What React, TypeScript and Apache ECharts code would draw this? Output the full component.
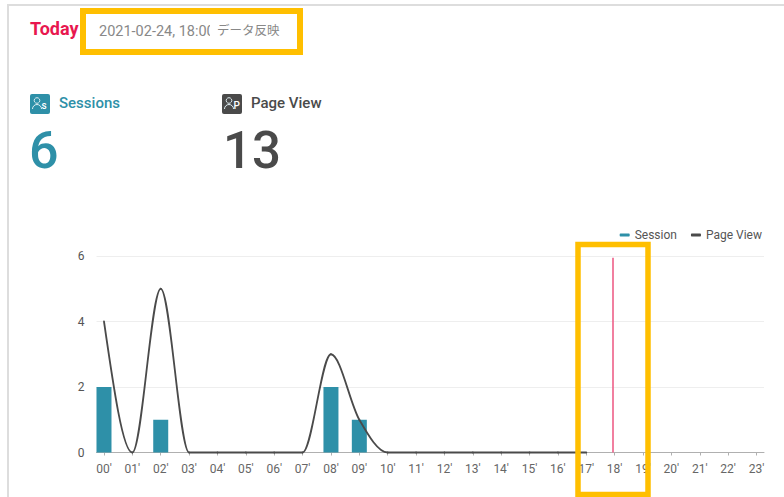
import React, { useEffect, useRef } from "react";
import * as echarts from "echarts";

const hourLabels = ["00'","01'","02'","03'","04'","05'","06'","07'","08'","09'","10'","11'","12'","13'","14'","15'","16'","17'","18'","19'","20'","21'","22'","23'"];
const hourIndex = hourLabels.map((_, i) => i);
const sessionValues = [2,0,1,0,0,0,0,0,2,1,0,0,0,0,0,0,0,0];
const pageViewValues = [4,0,5,0,0,0,0,0,3,1,0,0,0,0,0,0,0,0];
const yTicks = { min: 0, max: 6, interval: 2 };
const nowHour = 17.95;
const nowTop = 5.95;

const TEAL = "#2e90a8";
const DARK = "#4a4a4a";
const YELLOW = "#ffbf00";
const FONT = "Roboto, 'Noto Sans CJK JP', sans-serif";

// Tangents of a monotone cubic through the values (unit spacing), in value units per hour.
function monotoneTangents(v: number[]) {
  const n = v.length;
  const s = v.slice(1).map((y, i) => y - v[i]);
  const m = v.map(() => 0);
  for (let i = 1; i < n - 1; i++) {
    const a = s[i - 1], b = s[i];
    m[i] = (Math.sign(a) + Math.sign(b)) * Math.min(Math.abs(a), Math.abs(b), 0.5 * Math.abs((a + b) / 2));
  }
  m[0] = (3 * s[0] - m[1]) / 2;
  m[n - 1] = (3 * s[n - 2] - m[n - 2]) / 2;
  return m;
}

function renderPageView(params: any, api: any) {
  const i = params.dataIndex;
  if (i >= pageViewValues.length - 1) return null;
  const m = monotoneTangents(pageViewValues);
  const s = api.coord([i, pageViewValues[i]]);
  const c1 = api.coord([i + 1 / 3, pageViewValues[i] + m[i] / 3]);
  const c2 = api.coord([i + 2 / 3, pageViewValues[i + 1] - m[i + 1] / 3]);
  const e = api.coord([i + 1, pageViewValues[i + 1]]);
  return {
    type: "bezierCurve",
    shape: { x1: s[0], y1: s[1], cpx1: c1[0], cpy1: c1[1], cpx2: c2[0], cpy2: c2[1], x2: e[0], y2: e[1] },
    style: { fill: "none", stroke: DARK, lineWidth: 1.8, lineCap: "round" },
  };
}

function txt(x: number, y: number, text: string, fontSize: number, fill: string, fontWeight: any = 400) {
  return { type: "text", x, y, z: 10, style: { text, fontSize, fill, fontWeight, fontFamily: FONT, textVerticalAlign: "middle" } };
}

function icon(x: number, y: number, fill: string, letter: string) {
  return {
    type: "group", x, y, z: 10,
    children: [
      { type: "rect", shape: { x: 0, y: 0, width: 20, height: 20, r: 2 }, style: { fill } },
      { type: "circle", shape: { cx: 7, cy: 6.5, r: 2.8 }, style: { fill: "none", stroke: "#dfeef2", lineWidth: 1 } },
      { type: "arc", shape: { cx: 7, cy: 15, r: 4.5, startAngle: Math.PI, endAngle: 2 * Math.PI }, style: { fill: "none", stroke: "#dfeef2", lineWidth: 1 } },
      { type: "text", x: 11.5, y: 11.5, style: { text: letter, fontSize: 10, fill: "#ffffff", fontWeight: 500, fontFamily: FONT, textVerticalAlign: "middle" } },
    ],
  };
}

export default function App() {
  const ref = useRef<HTMLDivElement>(null);
  useEffect(() => {
    const chart = echarts.init(ref.current!, null, { renderer: "svg" });
    chart.setOption({
      animation: false,
      backgroundColor: "#ffffff",
      textStyle: { fontFamily: FONT },
      grid: { left: 96.5, right: 20, top: 256, bottom: 44.5 },
      legend: {
        top: 224, right: 17, itemGap: 14, itemWidth: 10, itemHeight: 3, icon: "roundRect",
        textStyle: { fontSize: 12, color: "#555", fontFamily: FONT },
        data: [
          { name: "Session", itemStyle: { color: TEAL } },
          { name: "Page View", itemStyle: { color: DARK } },
        ],
      },
      xAxis: {
        type: "value", min: -0.264, max: 23.264,
        splitLine: { show: false },
        axisLine: { show: true, lineStyle: { color: "#b0b0b0", width: 1 } },
        axisTick: { show: true, length: 3, customValues: hourIndex, lineStyle: { color: "#b0b0b0" } },
        axisLabel: {
          show: true, customValues: hourIndex, margin: 10, fontSize: 12, color: "#666", fontFamily: FONT,
          formatter: (v: number) => hourLabels[v],
        },
      },
      yAxis: {
        type: "value", ...yTicks,
        axisLine: { show: false }, axisTick: { show: false },
        axisLabel: { margin: 12, fontSize: 12, color: "#555", fontFamily: FONT },
        splitLine: { lineStyle: { color: "#eeeeee", width: 1 } },
      },
      series: [
        {
          name: "Session", type: "bar", barWidth: 15,
          data: sessionValues.map((v, i) => [hourIndex[i], v]),
          itemStyle: { color: TEAL },
          markLine: {
            silent: true, symbol: "none", label: { show: false },
            lineStyle: { color: "#ee5f88", width: 1.6, type: "solid" },
            data: [[{ coord: [nowHour, 0] }, { coord: [nowHour, nowTop] }]],
          },
        },
        {
          name: "Page View", type: "custom", renderItem: renderPageView,
          itemStyle: { color: DARK },
          encode: { x: 0, y: 1 },
          data: pageViewValues.map((v, i) => [hourIndex[i], v]),
          z: 3,
        },
      ],
      graphic: [
        { type: "rect", z: 1, shape: { x: 8, y: 5, width: 790, height: 510 }, style: { fill: "none", stroke: "#dddddd", lineWidth: 2 } },
        txt(30, 28, "Today", 18, "#e8174f", 700),
        txt(99, 31, "2021-02-24, 18:00", 14.5, "#888888"),
        { type: "rect", z: 11, shape: { x: 210, y: 20, width: 6, height: 24 }, style: { fill: "#ffffff" } },
        txt(217, 30, "データ反映", 12.5, "#888888"),
        icon(30, 94, TEAL, "s"),
        txt(59, 103, "Sessions", 15, TEAL, 500),
        txt(29, 150, "6", 52, TEAL, 500),
        icon(222, 94, DARK, "P"),
        txt(251, 103, "Page View", 15, DARK, 500),
        txt(223, 150, "13", 51, DARK, 500),
        { type: "rect", z: 20, shape: { x: 83, y: 11, width: 217, height: 41 }, style: { fill: "none", stroke: YELLOW, lineWidth: 6 } },
        { type: "rect", z: 20, shape: { x: 578, y: 244.5, width: 70, height: 250 }, style: { fill: "none", stroke: YELLOW, lineWidth: 5.5 } },
      ],
    });
    return () => chart.dispose();
  }, []);
  return <div ref={ref} style={{ position: "fixed", left: 0, top: 0, width: 784, height: 497 }} />;
}
